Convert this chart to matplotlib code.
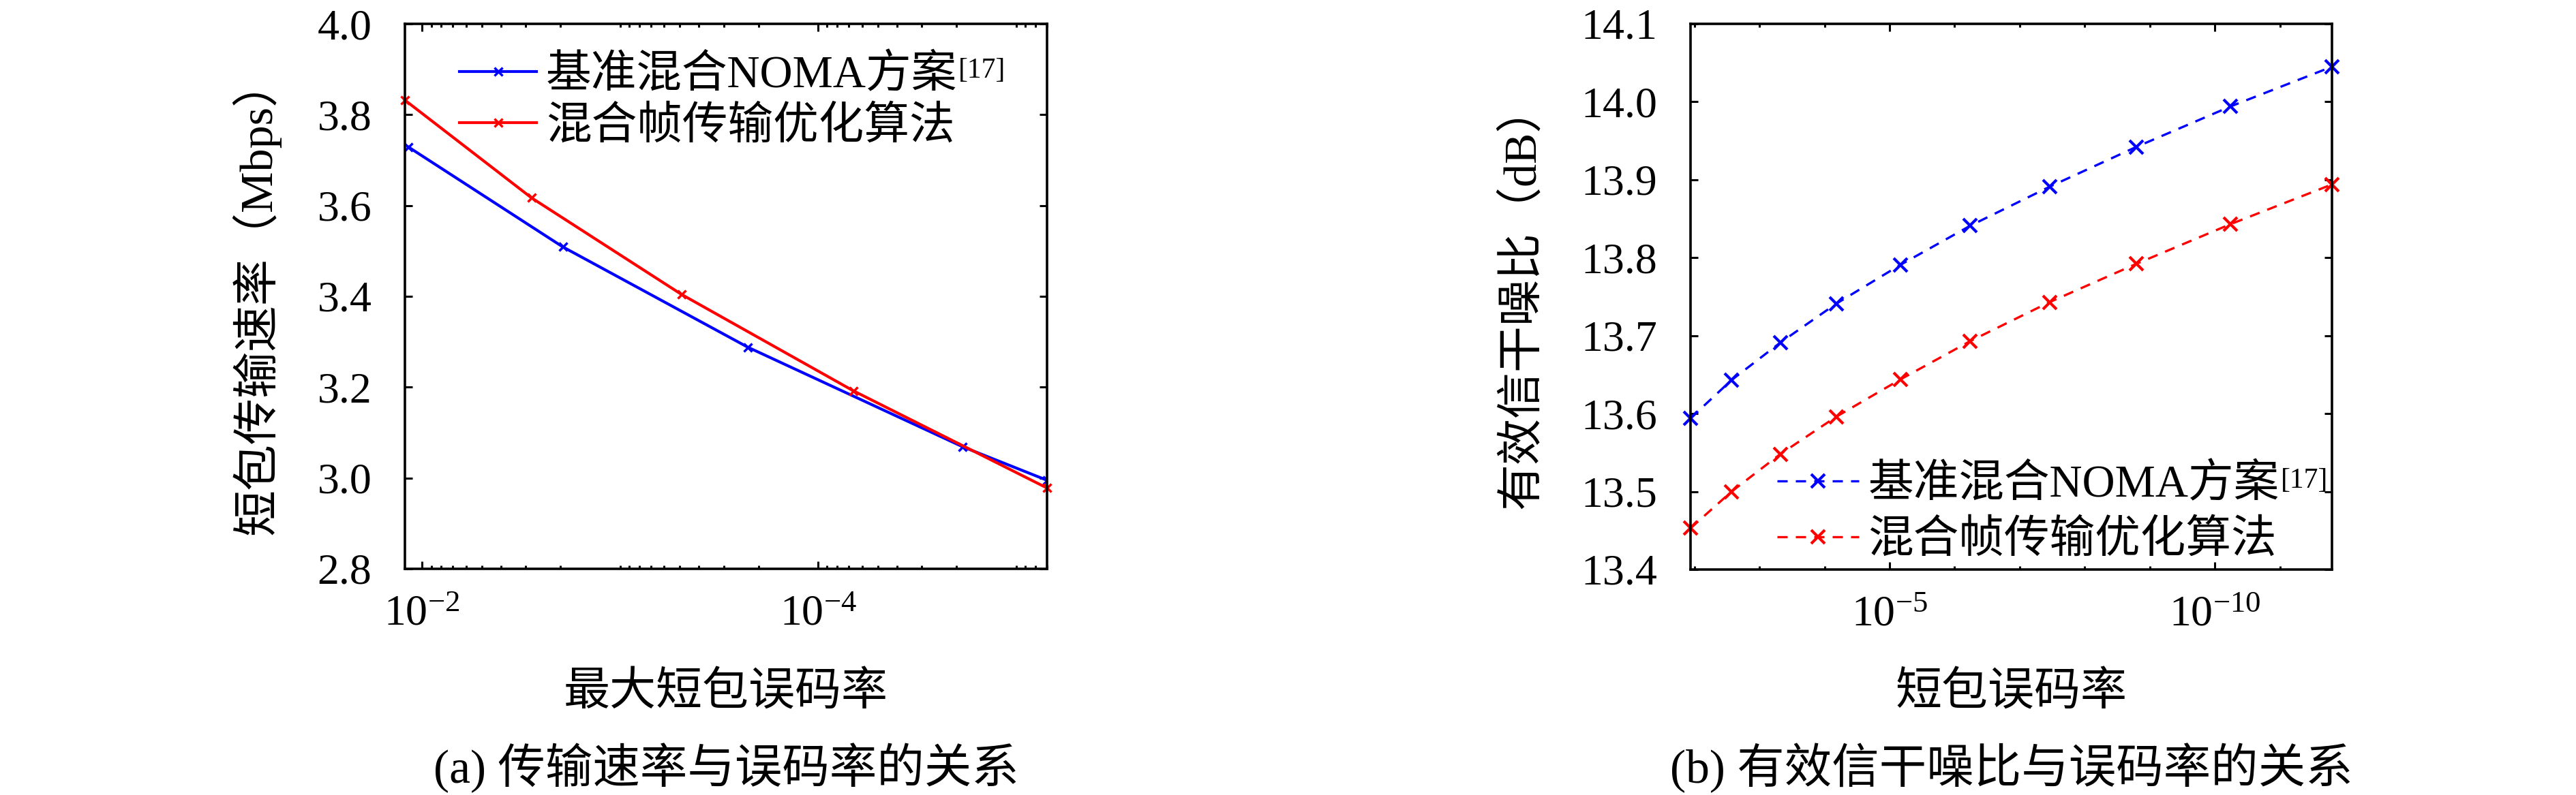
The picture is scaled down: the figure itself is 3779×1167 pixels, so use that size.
import matplotlib
matplotlib.use("Agg")
import matplotlib.pyplot as plt
import matplotlib.ticker as mticker
import numpy as np

plt.rcParams['font.family'] = ['Liberation Serif', 'Noto Sans CJK SC']
plt.rcParams['mathtext.fontset'] = 'custom'
plt.rcParams['mathtext.rm'] = 'Liberation Serif'
plt.rcParams['mathtext.it'] = 'Liberation Serif:italic'
plt.rcParams['axes.unicode_minus'] = False

# (a) 传输速率与误码率
ber_a_base = [1.175e-2, 1.95e-3, 2.265e-4, 1.866e-5, 6.98e-6]
rate_base = [3.729, 3.509, 3.288, 3.069, 2.995]
ber_a_opt = [1.222e-2, 2.805e-3, 4.887e-4, 6.64e-5, 6.98e-6]
rate_opt = [3.832, 3.617, 3.404, 3.192, 2.978]

# (b) 有效信干噪比与误码率
ber_b = [1.148e-2, 2.69e-3, 4.79e-4, 6.61e-5, 6.76e-6,
         5.75e-7, 3.47e-8, 1.62e-9, 5.75e-11, 1.58e-12]
snr_base = [13.594, 13.643, 13.691, 13.741, 13.791,
            13.841, 13.891, 13.942, 13.994, 14.045]
snr_opt = [13.453, 13.500, 13.548, 13.596, 13.644,
           13.693, 13.743, 13.792, 13.843, 13.894]

label_base = '基准混合NOMA方案'
label_ref = '[17]'
label_opt = '混合帧传输优化算法'

W, H = 3780, 1167
fig = plt.figure(figsize=(W / 100, H / 100), dpi=100)

ax1 = fig.add_axes([594 / W, 1 - 835 / H, 942 / W, 800 / H])
ax2 = fig.add_axes([2480 / W, 1 - 836 / H, 941 / W, 801 / H])

tick_fs = 46
label_fs = 49
leg_fs = 48
sup_fs = 30
cap_fs = 50

# --- panel (a)
ax1.plot(ber_a_base, rate_base, color='#0000ff', lw=3, marker='x', ms=9, mew=2.5,
         label=label_base)
ax1.plot(ber_a_opt, rate_opt, color='#ff0000', lw=3, marker='x', ms=9, mew=2.5,
         label=label_opt, clip_on=False)
ax1.set_xscale('log')
ax1.set_xlim(max(ber_a_opt), min(ber_a_opt))
ax1.set_ylim(2.8, 4.0)
ax1.yaxis.set_major_locator(mticker.MultipleLocator(0.2))
ax1.yaxis.set_major_formatter(mticker.FormatStrFormatter('%.1f'))
ax1.xaxis.set_major_locator(mticker.FixedLocator([1e-2, 1e-4]))
ax1.xaxis.set_minor_locator(mticker.LogLocator(base=10, subs=np.arange(1, 10), numticks=60))
ax1.xaxis.set_minor_formatter(mticker.NullFormatter())
ax1.set_xlabel('最大短包误码率', fontsize=label_fs)
ax1.set_ylabel('短包传输速率（Mbps）', fontsize=label_fs)
ax1.xaxis.label.set_va('center')
ax1.yaxis.label.set_va('center')
ax1.xaxis.set_label_coords(0.5, (835 - 1018.5) / 800)
ax1.yaxis.set_label_coords((375 - 594) / 942, 0.5)
leg1 = ax1.legend(loc='center left', bbox_to_anchor=(0.085, 0.858), frameon=False,
                  fontsize=leg_fs, borderpad=0, borderaxespad=0, handlelength=1.7,
                  handletextpad=0.2, labelspacing=0.2, numpoints=1)

# --- panel (b)
ax2.plot(ber_b, snr_base, color='#0000ff', lw=2.4, ls=(0, (4.5, 3.6)), marker='x',
         ms=15, mew=3, label=label_base, clip_on=False)
ax2.plot(ber_b, snr_opt, color='#ff0000', lw=2.4, ls=(0, (4.5, 3.6)), marker='x',
         ms=15, mew=3, label=label_opt, clip_on=False)
ax2.set_xscale('log')
ax2.set_xlim(max(ber_b), min(ber_b))
ax2.set_ylim(13.4, 14.1)
ax2.yaxis.set_major_locator(mticker.MultipleLocator(0.1))
ax2.yaxis.set_major_formatter(mticker.FormatStrFormatter('%.1f'))
ax2.xaxis.set_major_locator(mticker.FixedLocator([1e-5, 1e-10]))
ax2.xaxis.set_minor_locator(mticker.FixedLocator(10.0 ** np.arange(-12, -1)))
ax2.xaxis.set_minor_formatter(mticker.NullFormatter())
ax2.set_xlabel('短包误码率', fontsize=label_fs)
ax2.set_ylabel('有效信干噪比（dB）', fontsize=label_fs)
ax2.xaxis.label.set_va('center')
ax2.yaxis.label.set_va('center')
ax2.xaxis.set_label_coords(0.5, (836 - 1018.5) / 801)
ax2.yaxis.set_label_coords((2232 - 2480) / 941, 0.5)
leg2 = ax2.legend(loc='center left', bbox_to_anchor=(0.135, 0.1035), frameon=False,
                  fontsize=leg_fs, borderpad=0, borderaxespad=0, handlelength=1.8,
                  handletextpad=0.2, labelspacing=0.3, numpoints=1)

for ax in (ax1, ax2):
    for sp in ax.spines.values():
        sp.set_linewidth(2.6)
    ax.tick_params(which='both', direction='in', top=True, right=True,
                   width=2.2, labelsize=tick_fs)
    ax.tick_params(which='major', length=8)
    ax.tick_params(which='minor', length=3.6)
    ax.tick_params(axis='x', which='major', pad=28)
    ax.tick_params(axis='y', which='major', pad=35)

fig.text((594 + 1536) / 2 / W, 1 - 1127 / H, '(a) 传输速率与误码率的关系',
         fontsize=cap_fs, ha='center', va='center')
fig.text((2480 + 3421) / 2 / W, 1 - 1127 / H, '(b) 有效信干噪比与误码率的关系',
         fontsize=cap_fs, ha='center', va='center')

# 参考文献上标: 放在图例第一行文字后面
fig.canvas.draw()
renderer = fig.canvas.get_renderer()
for leg in (leg1, leg2):
    bb = leg.get_texts()[0].get_window_extent(renderer)
    fig.text(bb.x1 / W + 0.0005, (bb.y1 - 5) / H, label_ref, fontsize=sup_fs,
             ha='left', va='top')

fig.savefig('out.png', dpi=100)
